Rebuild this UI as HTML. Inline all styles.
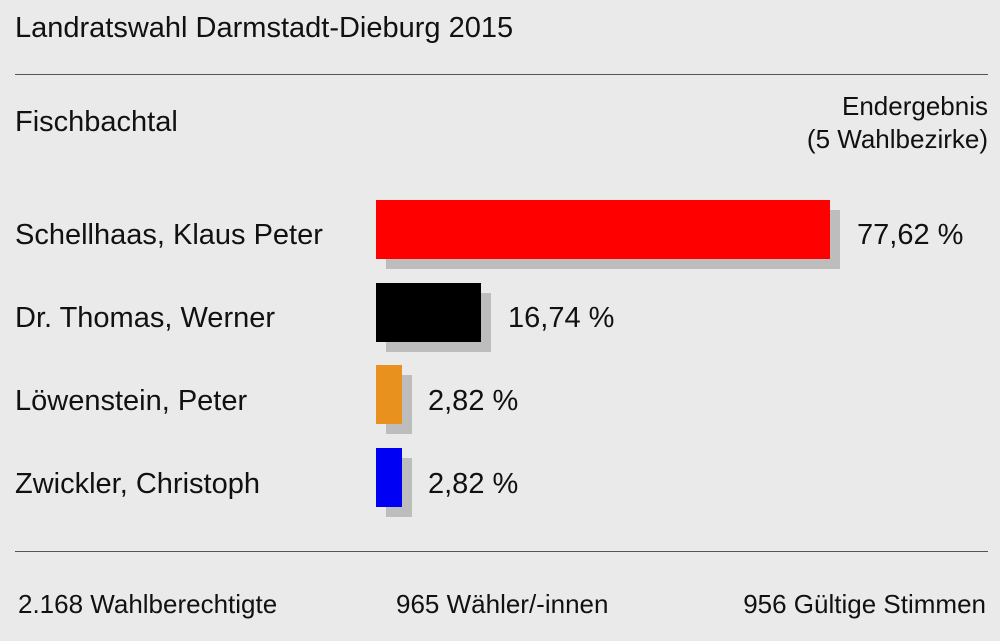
<!DOCTYPE html>
<html><head><meta charset="utf-8"><style>
body{margin:0;width:1000px;height:641px;background:#ebeaea;font-family:"Liberation Sans",Arial,sans-serif;color:#111;position:relative;overflow:hidden}
.t{position:absolute;font-size:29px;white-space:nowrap;line-height:34px}
.l{position:absolute;left:15px;width:973px;height:1px;background:#555}
.b{position:absolute;left:376px;height:59px}
.s{position:absolute;background:#bdbdbd;height:59px}
</style></head><body>
<div class="t" style="left:15px;top:11px">Landratswahl Darmstadt-Dieburg 2015</div>
<div class="l" style="top:74px"></div>
<div class="t" style="left:15px;top:105px">Fischbachtal</div>
<div class="t" style="right:12px;top:90px;text-align:right;font-size:26px;line-height:33px">Endergebnis<br>(5 Wahlbezirke)</div>

<div class="t" style="left:15px;top:218px">Schellhaas, Klaus Peter</div>
<div class="s" style="left:386px;top:210px;width:454px"></div>
<div class="b" style="top:200px;width:454px;background:#f00"></div>
<div class="t" style="left:857px;top:218px">77,62 %</div>

<div class="t" style="left:15px;top:301px">Dr. Thomas, Werner</div>
<div class="s" style="left:386px;top:293px;width:105px"></div>
<div class="b" style="top:283px;width:105px;background:#000"></div>
<div class="t" style="left:508px;top:301px">16,74 %</div>

<div class="t" style="left:15px;top:384px">Löwenstein, Peter</div>
<div class="s" style="left:386px;top:375px;width:26px"></div>
<div class="b" style="top:365px;width:26px;background:#e8911f"></div>
<div class="t" style="left:428px;top:384px">2,82 %</div>

<div class="t" style="left:15px;top:467px">Zwickler, Christoph</div>
<div class="s" style="left:386px;top:458px;width:26px"></div>
<div class="b" style="top:448px;width:26px;background:#0000f5"></div>
<div class="t" style="left:428px;top:467px">2,82 %</div>

<div class="l" style="top:551px"></div>
<div class="t" style="left:18px;top:587px;font-size:26px">2.168 Wahlberechtigte</div>
<div class="t" style="left:396px;top:587px;font-size:26px">965 Wähler/-innen</div>
<div class="t" style="right:14px;top:587px;font-size:26px">956 Gültige Stimmen</div>
</body></html>
